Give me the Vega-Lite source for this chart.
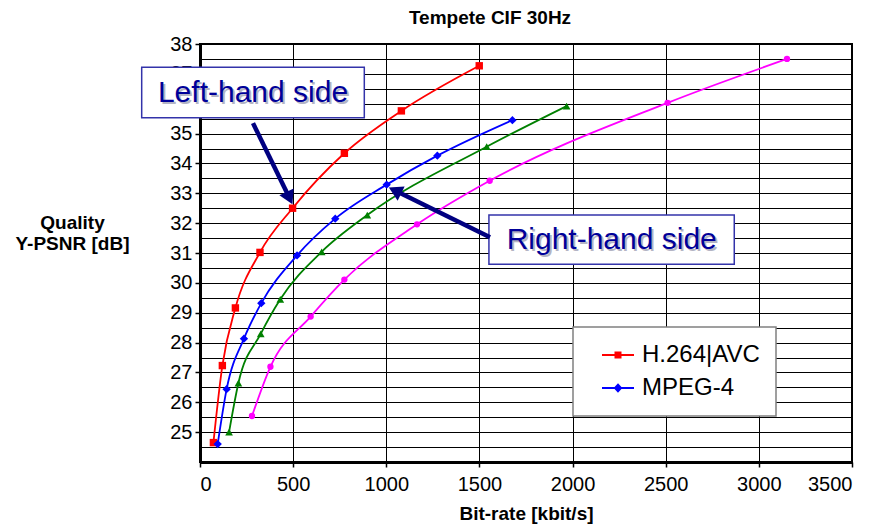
{
  "$schema": "https://vega.github.io/schema/vega-lite/v6.json",
  "width": 652,
  "height": 418,
  "autosize": {"type": "none"},
  "padding": {"left": 200, "top": 44, "right": 31, "bottom": 68},
  "background": "#ffffff",
  "config": {
    "font": "Liberation Sans",
    "view": {"stroke": "#000000", "strokeWidth": 2},
    "legend": {"strokeWidth": 1.5}
  },
  "title": {"text": "Tempete CIF 30Hz", "fontSize": 19, "fontWeight": "bold", "color": "#000000", "anchor": "middle", "dx": -36, "offset": 6, "font": "Liberation Sans"},
  "datasets": {
    "series": [
      {"codec": "H.264|AVC", "kbps": 72, "psnr": 24.65},
      {"codec": "H.264|AVC", "kbps": 120, "psnr": 27.23},
      {"codec": "H.264|AVC", "kbps": 190, "psnr": 29.16},
      {"codec": "H.264|AVC", "kbps": 322, "psnr": 31.02},
      {"codec": "H.264|AVC", "kbps": 497, "psnr": 32.5},
      {"codec": "H.264|AVC", "kbps": 775, "psnr": 34.34},
      {"codec": "H.264|AVC", "kbps": 1081, "psnr": 35.76},
      {"codec": "H.264|AVC", "kbps": 1499, "psnr": 37.27},
      {"codec": "MPEG-4", "kbps": 95, "psnr": 24.6},
      {"codec": "MPEG-4", "kbps": 143, "psnr": 26.44},
      {"codec": "MPEG-4", "kbps": 236, "psnr": 28.13},
      {"codec": "MPEG-4", "kbps": 329, "psnr": 29.32},
      {"codec": "MPEG-4", "kbps": 521, "psnr": 30.92},
      {"codec": "MPEG-4", "kbps": 726, "psnr": 32.15},
      {"codec": "MPEG-4", "kbps": 1002, "psnr": 33.29},
      {"codec": "MPEG-4", "kbps": 1274, "psnr": 34.26},
      {"codec": "MPEG-4", "kbps": 1677, "psnr": 35.45},
      {"codec": "H.263", "kbps": 156, "psnr": 25.0},
      {"codec": "H.263", "kbps": 206, "psnr": 26.64},
      {"codec": "H.263", "kbps": 326, "psnr": 28.29},
      {"codec": "H.263", "kbps": 431, "psnr": 29.45},
      {"codec": "H.263", "kbps": 653, "psnr": 31.04},
      {"codec": "H.263", "kbps": 898, "psnr": 32.27},
      {"codec": "H.263", "kbps": 1539, "psnr": 34.56},
      {"codec": "H.263", "kbps": 1968, "psnr": 35.92},
      {"codec": "MPEG-2", "kbps": 279, "psnr": 25.54},
      {"codec": "MPEG-2", "kbps": 378, "psnr": 27.19},
      {"codec": "MPEG-2", "kbps": 594, "psnr": 28.87},
      {"codec": "MPEG-2", "kbps": 775, "psnr": 30.11},
      {"codec": "MPEG-2", "kbps": 1165, "psnr": 31.96},
      {"codec": "MPEG-2", "kbps": 1555, "psnr": 33.42},
      {"codec": "MPEG-2", "kbps": 2510, "psnr": 36.03},
      {"codec": "MPEG-2", "kbps": 3151, "psnr": 37.5}
    ],
    "callouts": [
      {"label": "Left-hand side", "x1": -313, "x2": 882, "y1": 37.22, "y2": 35.53, "tx": 284.5, "ty": 36.37},
      {"label": "Right-hand side", "x1": 1551, "x2": 2868, "y1": 32.27, "y2": 30.62, "tx": 2210, "ty": 31.45}
    ],
    "arrows": [
      {"side": "left", "x_tail": 284.5, "y_tail": 35.35, "x_head": 480.4, "y_head": 32.84},
      {"side": "right", "x_tail": 1556.7, "y_tail": 31.53, "x_head": 1046.8, "y_head": 33.09}
    ]
  },
  "layer": [
    {
      "data": {"name": "series"},
      "layer": [
        {
          "mark": {"type": "line", "strokeWidth": 1.8, "interpolate": "monotone"},
          "encoding": {
            "x": {
              "field": "kbps", "type": "quantitative",
              "scale": {"domain": [0, 3500], "nice": false, "zero": false},
              "axis": {
                "tickCount": 7,
                "format": "d",
                "grid": true, "gridColor": "#000000", "gridWidth": 1, "gridOpacity": 1,
                "domainColor": "#000000", "domainWidth": 3,
                "tickColor": "#000000", "tickSize": 5, "tickWidth": 1.5,
                "labelFontSize": 20, "labelColor": "#000000", "labelPadding": 7, "labelFont": "Liberation Sans",
                "title": "Bit-rate [kbit/s]", "titleFontSize": 19, "titleFontWeight": "bold", "titleColor": "#000000", "titlePadding": 10, "titleFont": "Liberation Sans"
              }
            },
            "y": {
              "field": "psnr", "type": "quantitative",
              "scale": {"domain": [24, 38], "nice": false, "zero": false},
              "axis": {
                "tickCount": 28,
                "labelOverlap": false,
                "labelExpr": "datum.value % 1 === 0 && datum.value > 24 ? format(datum.value, 'd') : ''",
                "grid": true, "gridColor": "#000000", "gridWidth": 1, "gridOpacity": 1,
                "domainColor": "#000000", "domainWidth": 3,
                "tickColor": {"condition": {"test": "datum.value % 1 !== 0 || datum.value === 24", "value": "transparent"}, "value": "#000000"},
                "tickSize": 5, "tickWidth": 1.5,
                "labelFontSize": 20, "labelColor": "#000000", "labelPadding": 3, "labelFont": "Liberation Sans",
                "title": ["Quality", "Y-PSNR [dB]"], "titleAngle": 0, "titleX": -128, "titleY": 184,
                "titleAlign": "center", "titleBaseline": "alphabetic", "titleFontSize": 19, "titleFontWeight": "bold",
                "titleColor": "#000000", "titleLineHeight": 21, "titleFont": "Liberation Sans"
              }
            },
            "color": {
              "field": "codec", "type": "nominal",
              "scale": {"domain": ["H.264|AVC", "MPEG-4", "H.263", "MPEG-2"], "range": ["#ff0000", "#0000ff", "#008000", "#ff00ff"]},
              "legend": {
                "values": ["H.264|AVC", "MPEG-4"],
                "title": null,
                "orient": "none",
                "legendX": 373,
                "legendY": 283,
                "padding": 16,
                "fillColor": "#ffffff",
                "strokeColor": "#808080",
                "labelFontSize": 24,
                "labelFont": "Liberation Sans",
                "labelColor": "#000000",
                "labelOffset": 29,
                "rowPadding": 9,
                "symbolSize": 400,
                "labelExpr": "datum.label + '\u00a0\u00a0\u00a0\u00a0'",
                "encode": {
                  "symbols": {
                    "update": {
                      "shape": {"signal": "datum.value === 'MPEG-4' ? 'M0.1,0H3.3M1.7,-0.32L2,0L1.7,0.32L1.4,0Z' : 'M0.1,0H3.3M1.45,-0.25H1.95V0.25H1.45Z'"},
                      "fill": {"signal": "datum.value === 'MPEG-4' ? '#0000ff' : '#ff0000'"},
                      "stroke": {"signal": "datum.value === 'MPEG-4' ? '#0000ff' : '#ff0000'"},
                      "strokeWidth": {"value": 2},
                      "size": {"value": 400},
                      "opacity": {"value": 1}
                    }
                  }
                }
              }
            }
          }
        },
        {
          "transform": [{"filter": "datum.codec === 'H.264|AVC'"}],
          "mark": {"type": "point", "shape": "square", "size": 55, "filled": true, "opacity": 1, "color": "#ff0000"},
          "encoding": {
            "x": {"field": "kbps", "type": "quantitative", "scale": {"domain": [0, 3500], "nice": false, "zero": false}},
            "y": {"field": "psnr", "type": "quantitative", "scale": {"domain": [24, 38], "nice": false, "zero": false}}
          }
        },
        {
          "transform": [{"filter": "datum.codec === 'MPEG-4'"}],
          "mark": {"type": "point", "shape": "diamond", "size": 70, "filled": true, "opacity": 1, "color": "#0000ff"},
          "encoding": {
            "x": {"field": "kbps", "type": "quantitative", "scale": {"domain": [0, 3500], "nice": false, "zero": false}},
            "y": {"field": "psnr", "type": "quantitative", "scale": {"domain": [24, 38], "nice": false, "zero": false}}
          }
        },
        {
          "transform": [{"filter": "datum.codec === 'H.263'"}],
          "mark": {"type": "point", "shape": "triangle-up", "size": 60, "filled": true, "opacity": 1, "color": "#008000"},
          "encoding": {
            "x": {"field": "kbps", "type": "quantitative", "scale": {"domain": [0, 3500], "nice": false, "zero": false}},
            "y": {"field": "psnr", "type": "quantitative", "scale": {"domain": [24, 38], "nice": false, "zero": false}}
          }
        },
        {
          "transform": [{"filter": "datum.codec === 'MPEG-2'"}],
          "mark": {"type": "point", "shape": "circle", "size": 40, "filled": true, "opacity": 1, "color": "#ff00ff"},
          "encoding": {
            "x": {"field": "kbps", "type": "quantitative", "scale": {"domain": [0, 3500], "nice": false, "zero": false}},
            "y": {"field": "psnr", "type": "quantitative", "scale": {"domain": [24, 38], "nice": false, "zero": false}}
          }
        }
      ]
    },
    {
      "data": {"name": "callouts"},
      "layer": [
        {
          "mark": {"type": "rect", "fill": "#ffffff", "stroke": "#3333aa", "strokeWidth": 1.5},
          "encoding": {
            "x": {"field": "x1", "type": "quantitative", "scale": {"domain": [0, 3500], "nice": false, "zero": false}},
            "x2": {"field": "x2"},
            "y": {"field": "y1", "type": "quantitative", "scale": {"domain": [24, 38], "nice": false, "zero": false}},
            "y2": {"field": "y2"}
          }
        },
        {
          "mark": {"type": "text", "fontSize": 30, "font": "Liberation Sans", "color": "#b4b4c4", "dx": 2, "dy": 2, "baseline": "middle", "align": "center"},
          "encoding": {
            "x": {"field": "tx", "type": "quantitative", "scale": {"domain": [0, 3500], "nice": false, "zero": false}},
            "y": {"field": "ty", "type": "quantitative", "scale": {"domain": [24, 38], "nice": false, "zero": false}},
            "text": {"field": "label"}
          }
        },
        {
          "mark": {"type": "text", "fontSize": 30, "font": "Liberation Sans", "color": "#000099", "baseline": "middle", "align": "center"},
          "encoding": {
            "x": {"field": "tx", "type": "quantitative", "scale": {"domain": [0, 3500], "nice": false, "zero": false}},
            "y": {"field": "ty", "type": "quantitative", "scale": {"domain": [24, 38], "nice": false, "zero": false}},
            "text": {"field": "label"}
          }
        }
      ]
    },
    {
      "data": {"name": "arrows"},
      "layer": [
        {
          "mark": {"type": "rule", "strokeWidth": 4.5, "color": "#000080"},
          "encoding": {
            "x": {"field": "x_tail", "type": "quantitative", "scale": {"domain": [0, 3500], "nice": false, "zero": false}},
            "y": {"field": "y_tail", "type": "quantitative", "scale": {"domain": [24, 38], "nice": false, "zero": false}},
            "x2": {"field": "x_head"},
            "y2": {"field": "y_head"}
          }
        },
        {
          "transform": [{"filter": "datum.side === 'left'"}],
          "mark": {"type": "point", "shape": "triangle-up", "angle": 154.4, "size": 250, "filled": true, "color": "#000080", "opacity": 1},
          "encoding": {
            "x": {"field": "x_head", "type": "quantitative", "scale": {"domain": [0, 3500], "nice": false, "zero": false}},
            "y": {"field": "y_head", "type": "quantitative", "scale": {"domain": [24, 38], "nice": false, "zero": false}}
          }
        },
        {
          "transform": [{"filter": "datum.side === 'right'"}],
          "mark": {"type": "point", "shape": "triangle-up", "angle": 296.1, "size": 250, "filled": true, "color": "#000080", "opacity": 1},
          "encoding": {
            "x": {"field": "x_head", "type": "quantitative", "scale": {"domain": [0, 3500], "nice": false, "zero": false}},
            "y": {"field": "y_head", "type": "quantitative", "scale": {"domain": [24, 38], "nice": false, "zero": false}}
          }
        }
      ]
    }
  ]
}
